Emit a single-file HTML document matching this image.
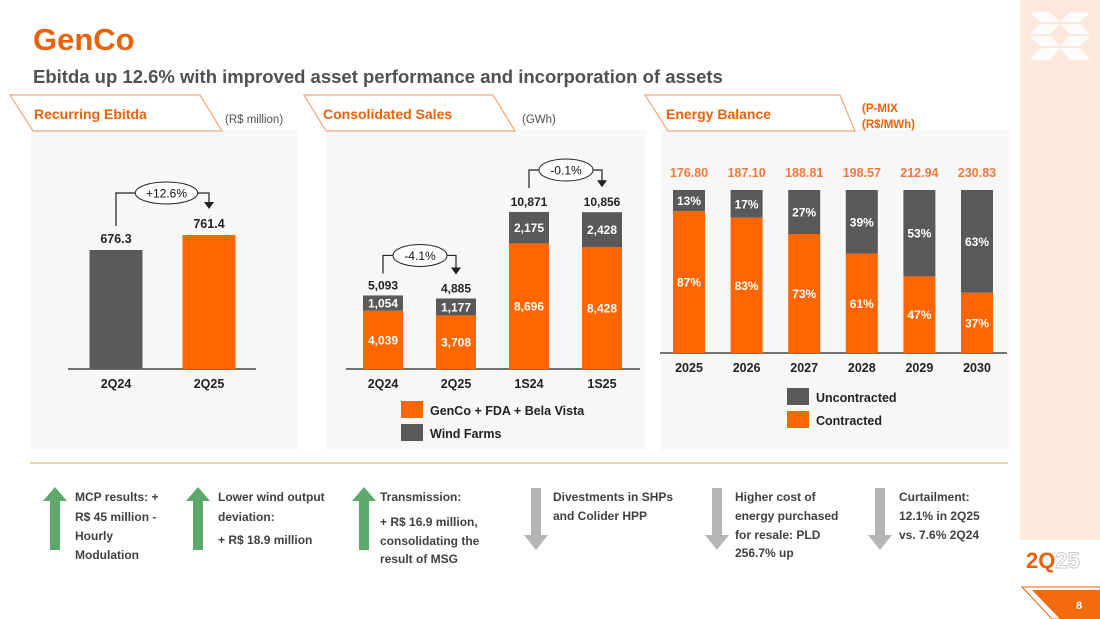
<!DOCTYPE html>
<html><head><meta charset="utf-8"><style>
body{margin:0;width:1100px;height:619px;overflow:hidden;background:#fff;font-family:"Liberation Sans",sans-serif}
svg{display:block}
text{font-family:"Liberation Sans",sans-serif}
</style></head><body>
<svg id="s" width="1100" height="619" viewBox="0 0 1100 619">
<rect x="1020" y="0" width="80" height="540" fill="#fce9dc"/>
<g fill="#fff" opacity="0.9">
<polygon points="1030,12 1050,12 1060,22 1040,22"/><polygon points="1070,12 1090,12 1080,22 1060,22"/>
<polygon points="1040,24 1060,24 1050,34 1030,34"/><polygon points="1060,24 1080,24 1090,34 1070,34"/>
<polygon points="1030,36 1050,36 1060,46 1040,46"/><polygon points="1070,36 1090,36 1080,46 1060,46"/>
<polygon points="1040,48 1060,48 1050,60 1030,60"/><polygon points="1060,48 1080,48 1090,60 1070,60"/>
</g>
<text x="1026" y="568" font-size="22" font-weight="bold" fill="#e8620a">2Q<tspan fill="#fff" stroke="#c8c8c8" stroke-width="1">25</tspan></text>
<polygon points="1022,587 1100,587 1100,619 1052,619" fill="none" stroke="#e8620a" stroke-width="1"/>
<polygon points="1032,590 1100,590 1100,619 1060,619" fill="#f26b0f"/>
<text x="1079" y="609" font-size="11" font-weight="bold" fill="#fff" text-anchor="middle">8</text>

<text x="33" y="50" font-size="31" font-weight="bold" fill="#e8620a">GenCo</text>
<text x="33" y="83" font-size="18.5" font-weight="bold" fill="#505050">Ebitda up 12.6% with improved asset performance and incorporation of assets</text>

<rect x="31" y="130" width="267" height="320" fill="#f7f7f7"/>
<rect x="326" y="130" width="320" height="320" fill="#f7f7f7"/>
<rect x="661" y="130" width="349" height="320" fill="#f7f7f7"/>

<g><polygon points="10,95 200,95 222,131 33,131" fill="#fff" stroke="#f4a57a" stroke-width="1.2"/>
<text x="34" y="119" font-size="14" font-weight="bold" fill="#e8620a">Recurring Ebitda</text></g>
<text x="225" y="123" font-size="11.5" fill="#505050">(R$ million)</text>
<g><polygon points="304,95 493,95 515,131 326,131" fill="#fff" stroke="#f4a57a" stroke-width="1.2"/>
<text x="323" y="119" font-size="14" font-weight="bold" fill="#e8620a">Consolidated Sales</text></g>
<text x="522" y="123" font-size="11.5" fill="#505050">(GWh)</text>
<g><polygon points="645,95 840,95 855,131 668,131" fill="#fff" stroke="#f4a57a" stroke-width="1.2"/>
<text x="666" y="119" font-size="14" font-weight="bold" fill="#e8620a">Energy Balance</text></g>
<text x="862" y="112" font-size="11.5" font-weight="bold" fill="#e8620a"><tspan x="862">(P-MIX</tspan><tspan x="862" dy="16">(R$/MWh)</tspan></text>

<g id="c1"></g><g id="c2"></g><g id="c3"></g>

<line x1="30" y1="463" x2="1008" y2="463" stroke="#d9a066" stroke-width="1"/>
<g id="notes"></g>
</svg>
<script>
const NS='http://www.w3.org/2000/svg';
function mk(p,t,a,txt){const e=document.createElementNS(NS,t);for(const k in a)e.setAttribute(k,a[k]);if(txt!==undefined)e.textContent=txt;p.appendChild(e);return e;}
const OR='#ff6600',DG='#595959';

// Chart 1: Recurring Ebitda
const ebitdaCats=['2Q24','2Q25'];
const ebitdaVals=[676.3,761.4];
const ebitdaLabels=['676.3','761.4'];
const ebitdaColors=[DG,OR];
// Chart 2: Consolidated Sales
const salesCats=['2Q24','2Q25','1S24','1S25'];
const salesGenco=[4039,3708,8696,8428];
const salesWind=[1054,1177,2175,2428];
const salesTotals=['5,093','4,885','10,871','10,856'];
const salesGencoLabels=['4,039','3,708','8,696','8,428'];
const salesWindLabels=['1,054','1,177','2,175','2,428'];
// Chart 3: Energy Balance
const balYears=['2025','2026','2027','2028','2029','2030'];
const balContracted=[87,83,73,61,47,37];
const balUncontracted=[13,17,27,39,53,63];
const balPrices=['176.80','187.10','188.81','198.57','212.94','230.83'];

function bracket(g,x1,y1,x2,y2,top,ox,label,name){
  const grp=mk(g,'g',{});
  
  
  mk(grp,'polyline',{points:`${x1},${y1} ${x1},${top} ${x2},${top} ${x2},${y2-6}`,fill:'none',stroke:'#222','stroke-width':1.2});
  mk(grp,'polygon',{points:`${x2-5},${y2-7} ${x2+5},${y2-7} ${x2},${y2}`,fill:'#222'});
  mk(grp,'ellipse',{cx:ox,cy:top,rx:label.length*4.2+6,ry:11,fill:'#fff',stroke:'#222','stroke-width':1});
  mk(grp,'text',{x:ox,y:top+4.5,'font-size':12,'text-anchor':'middle',fill:'#111'},label);
}

// --- chart 1
(function(){
  const g=document.getElementById('c1'),base=369,k=134/761.4,cx=[116,209],w=53;
  mk(g,'line',{x1:68,y1:base,x2:256,y2:base,stroke:'#222','stroke-width':1.2});
  let tops=[];
  ebitdaVals.forEach((v,i)=>{
    const h=v*k,y=base-h;tops.push(y);
    const r=mk(g,'rect',{x:cx[i]-w/2,y:y,width:w,height:h,fill:ebitdaColors[i]});
    
    
    const t=mk(g,'text',{x:cx[i],y:y-7,'font-size':12.5,'font-weight':'bold','text-anchor':'middle',fill:'#222'},ebitdaLabels[i]);
    
    
    const l=mk(g,'text',{x:cx[i],y:base+19,'font-size':12.5,'font-weight':'bold','text-anchor':'middle',fill:'#222'},ebitdaCats[i]);
    
    
  });
  bracket(g,cx[0],tops[0]-24,cx[1],tops[1]-26,tops[1]-42,(cx[0]+cx[1])/2+4,'+12.6%','ebitda-growth-callout');
})();

// --- chart 2
(function(){
  const g=document.getElementById('c2'),base=369,k=157/10871,cx=[383,456,529,602],w=40;
  mk(g,'line',{x1:346,y1:base,x2:640,y2:base,stroke:'#222','stroke-width':1.2});
  let tops=[];
  salesCats.forEach((c,i)=>{
    const h1=salesGenco[i]*k,h2=salesWind[i]*k,y1=base-h1,y2=y1-h2;tops.push(y2);
    const r1=mk(g,'rect',{x:cx[i]-w/2,y:y1,width:w,height:h1,fill:OR});
    
    
    const r2=mk(g,'rect',{x:cx[i]-w/2,y:y2,width:w,height:h2,fill:DG});
    
    
    mk(g,'text',{x:cx[i],y:y1+h1/2+4.5,'font-size':12,'font-weight':'bold','text-anchor':'middle',fill:'#fff'},salesGencoLabels[i]);
    mk(g,'text',{x:cx[i],y:y2+h2/2+4.5,'font-size':12,'font-weight':'bold','text-anchor':'middle',fill:'#fff'},salesWindLabels[i]);
    const t=mk(g,'text',{x:cx[i],y:y2-6,'font-size':12,'font-weight':'bold','text-anchor':'middle',fill:'#222'},salesTotals[i]);
    
    
    const l=mk(g,'text',{x:cx[i],y:base+19,'font-size':12.5,'font-weight':'bold','text-anchor':'middle',fill:'#222'},c);
    
    
  });
  bracket(g,cx[0],tops[0]-22,cx[1],tops[1]-24,tops[0]-40,420,'-4.1%','sales-quarter-callout');
  bracket(g,cx[2],tops[2]-24,cx[3],tops[3]-25,tops[2]-42,566,'-0.1%','sales-semester-callout');
  const lg=mk(g,'g',{});
  
  
  mk(lg,'rect',{x:401,y:401,width:22,height:17,fill:OR});
  mk(lg,'text',{x:430,y:415,'font-size':12.5,'font-weight':'bold',fill:'#222'},'GenCo + FDA + Bela Vista');
  mk(lg,'rect',{x:401,y:424,width:22,height:17,fill:DG});
  mk(lg,'text',{x:430,y:438,'font-size':12.5,'font-weight':'bold',fill:'#222'},'Wind Farms');
})();

// --- chart 3
(function(){
  const g=document.getElementById('c3'),base=353,H=163,x0=689,step=57.6,w=32;
  mk(g,'line',{x1:660,y1:base,x2:1007,y2:base,stroke:'#222','stroke-width':1.2});
  balYears.forEach((yr,i)=>{
    const cx=x0+i*step,tot=balContracted[i]+balUncontracted[i];
    const h1=H*balContracted[i]/tot,h2=H*balUncontracted[i]/tot,y1=base-h1,y2=y1-h2;
    const r1=mk(g,'rect',{x:cx-w/2,y:y1,width:w,height:h1,fill:OR});
    
    
    const r2=mk(g,'rect',{x:cx-w/2,y:y2,width:w,height:h2,fill:DG});
    
    
    mk(g,'text',{x:cx,y:y1+h1/2+4.5,'font-size':12,'font-weight':'bold','text-anchor':'middle',fill:'#fff'},balContracted[i]+'%');
    mk(g,'text',{x:cx,y:y2+h2/2+4.5,'font-size':12,'font-weight':'bold','text-anchor':'middle',fill:'#fff'},balUncontracted[i]+'%');
    const p=mk(g,'text',{x:cx,y:177,'font-size':12.5,'font-weight':'bold','text-anchor':'middle',fill:'#f07840'},balPrices[i]);
    
    
    const l=mk(g,'text',{x:cx,y:base+19,'font-size':12.5,'font-weight':'bold','text-anchor':'middle',fill:'#222'},yr);
    
    
  });
  const lg=mk(g,'g',{});
  
  
  mk(lg,'rect',{x:787,y:388,width:22,height:17,fill:DG});
  mk(lg,'text',{x:816,y:402,'font-size':12.5,'font-weight':'bold',fill:'#222'},'Uncontracted');
  mk(lg,'rect',{x:787,y:411,width:22,height:17,fill:OR});
  mk(lg,'text',{x:816,y:425,'font-size':12.5,'font-weight':'bold',fill:'#222'},'Contracted');
})();

// --- notes
(function(){
  const g=document.getElementById('notes');
  const notes=[
    {x:44,tx:75,up:true,lines:[['MCP results: +',497],['R$ 45 million -',517],['Hourly',536],['Modulation',555]]},
    {x:187,tx:218,up:true,lines:[['Lower wind output',497],['deviation:',517],['+ R$ 18.9 million',540]]},
    {x:353,tx:380,up:true,lines:[['Transmission:',497],['+ R$ 16.9 million,',522],['consolidating the',541],['result of MSG',559]]},
    {x:524,tx:553,up:false,lines:[['Divestments in SHPs',497],['and Colider HPP',516]]},
    {x:705,tx:735,up:false,lines:[['Higher cost of',497],['energy purchased',516],['for resale: PLD',535],['256.7% up',553]]},
    {x:868,tx:899,up:false,lines:[['Curtailment:',497],['12.1% in 2Q25',516],['vs. 7.6% 2Q24',535]]}
  ];
  notes.forEach((n,i)=>{
    const grp=mk(g,'g',{});
    
    
    const x=n.x;
    if(n.up) mk(grp,'polygon',{points:`${x+11},487 ${x+23},501 ${x+16},501 ${x+16},550 ${x+6},550 ${x+6},501 ${x-1},501`,fill:'#5fa86b'});
    else mk(grp,'polygon',{points:`${x+7},488 ${x+17},488 ${x+17},535 ${x+24},535 ${x+12},550 ${x},535 ${x+7},535`,fill:'#b5b5b5'});
    n.lines.forEach(l=>mk(grp,'text',{x:n.tx,y:l[1]+4,'font-size':12,'font-weight':'bold',fill:'#404040'},l[0]));
  });
})();
</script>
</body></html>
